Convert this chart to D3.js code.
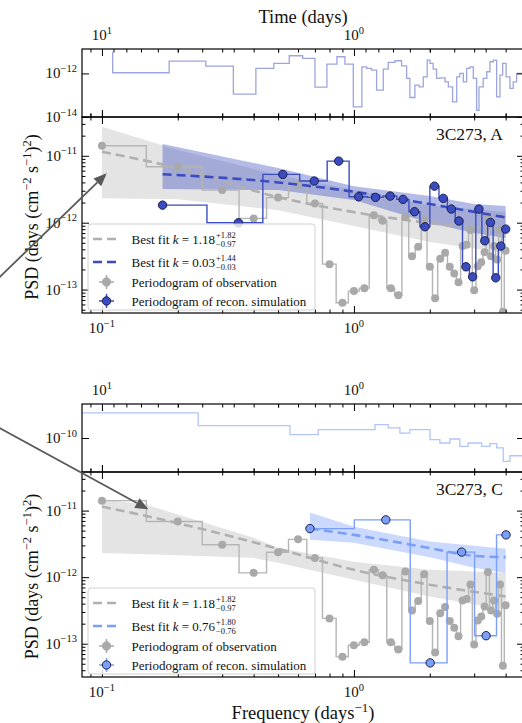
<!DOCTYPE html>
<html>
<head>
<meta charset="utf-8">
<script src="https://cdn.jsdelivr.net/npm/d3@7"></script>
<style>
  body { margin: 0; background: #fff; }
  text { font-family: "Liberation Serif", "DejaVu Serif", serif; fill: #111; }
</style>
</head>
<body>
<svg id="fig" width="522" height="723"></svg>
<script>
// ---------- values ----------
// periodogram of the observation (same in both panels)
const obsFreq = [0.1,0.2,0.3,0.4,0.5,0.6,0.7,0.8,0.9,1.0,1.1,1.2,1.3,1.4,1.5,1.6,1.7,1.8,1.9,2.0,
                 2.1,2.2,2.3,2.4,2.5,2.6,2.7,2.8,2.9,3.0,3.1,3.2,3.3,3.4,3.5,3.6,3.7,3.8,3.9,4.0];
const obsPSD = [1.41e-11,6.85e-12,3.07e-12,1.16e-12,2.37e-12,3.7e-12,1.94e-12,2.4e-13,6.35e-14,9.5e-14,
                1.05e-13,1.29e-12,1.07e-12,1.05e-13,8.2e-14,1.22e-12,3.16e-13,4.37e-13,1.11e-12,2.19e-13,
                7.4e-14,2.88e-13,3.55e-13,2.19e-13,1.74e-13,1.29e-13,4.47e-13,4.68e-13,7.76e-13,9.77e-14,
                2.24e-13,2.57e-13,3.63e-13,1.2e-12,3.16e-13,4.47e-13,2.82e-13,7.76e-13,4.68e-14,3.8e-13];

// panel A
const obsFitFreqA = [0.1, 0.2, 0.5, 1, 2, 4];
const obsFitA     = [1.15e-11, 6.55e-12, 2.41e-12, 1.44e-12, 9.86e-13, 7.76e-13];
const obsBandFreqA = [0.1, 0.2, 0.5, 1, 2, 4];
const obsBandLoA   = [2.31e-12, 2.25e-12, 1.54e-12, 8.9e-13, 5.13e-13, 3.51e-13];
const obsBandHiA   = [2.71e-11, 1.22e-11, 5.15e-12, 3.07e-12, 1.83e-12, 1.44e-12];
const simFreqA = [0.174,0.348,0.522,0.696,0.870,1.044,1.218,1.392,1.566,1.740,1.914,2.088,
                  2.262,2.436,2.610,2.784,2.958,3.132,3.306,3.480,3.654,3.828,4.002];
const simPSDA  = [1.83e-12,9.97e-13,5.27e-12,4.19e-12,8.33e-12,2.44e-12,2.39e-12,2.5e-12,2.23e-12,
                  1.46e-12,8.69e-13,3.52e-12,2.31e-12,1.6e-12,1.06e-12,2.19e-13,1.55e-13,1.6e-12,
                  5.36e-13,1.01e-12,1.5e-13,4.47e-13,8.02e-13];
const simFitFreqA = [0.174, 0.5, 1, 2, 3, 4];
const simFitA     = [5.3e-12, 4.0e-12, 2.9e-12, 1.9e-12, 1.45e-12, 1.2e-12];
const simBandFreqA = [0.174, 0.5, 1, 2, 3, 4];
const simBandLoA   = [3.18e-12, 3.07e-12, 2.18e-12, 9.86e-13, 7.0e-13, 5.9e-13];
const simBandHiA   = [1.5e-11, 6.55e-12, 3.52e-12, 2.5e-12, 1.9e-12, 1.77e-12];
// light curve A (time in days, step starts)
const lcTimeA = [9.07,9.07,5.41,3.87,3.01,2.45,2.08,1.806,1.598,1.428,1.28,1.168,1.086,1.006,0.93,0.89,
                 0.851,0.813,0.765,0.731,0.688,0.647,0.618,0.600,0.573,0.551,0.531,0.512,0.499,0.485,
                 0.470,0.456,0.435,0.422,0.406,0.391,0.380,0.368,0.357,0.3465,0.336,0.326,0.319,0.307,
                 0.297,0.2886,0.280,0.2715,0.2634,0.257,0.249,0.2404,0.2333,0.2262,0.21];
const lcFluxA = [9.9e-12,1.07e-12,3.69e-12,2.17e-12,1.11e-13,1.70e-12,2.89e-12,6.47e-12,4.91e-12,2.34e-13,
                 2.68e-12,5.82e-12,2.68e-12,2.89e-14,2.01e-12,1.70e-12,1.42e-12,1.70e-13,1.58e-12,3.21e-12,
                 3.81e-12,2.24e-12,5.89e-13,7.83e-14,2.89e-13,2.41e-13,6.97e-13,4.10e-12,2.89e-12,1.58e-12,
                 5.89e-13,6.27e-13,4.10e-13,2.41e-13,4.91e-14,6.97e-13,1.0e-12,4.10e-13,1.70e-12,2.01e-12,
                 5.89e-13,2.04e-14,2.41e-13,5.89e-13,1.19e-12,3.42e-12,4.10e-12,8.35e-14,8.35e-13,2.89e-12,
                 6.97e-13,2.04e-13,4.10e-13,1.0e-12,1.0e-12];

// panel C
const obsFitFreqC = [0.1, 0.2, 0.5, 1, 2, 4];
const obsFitC     = [1.15e-11, 6.47e-12, 2.67e-12, 1.29e-12, 7.7e-13, 5.14e-13];
const obsBandFreqC = [0.1, 0.15, 0.4, 0.5, 1, 2, 4];
const obsBandLoC   = [2.3e-12, 2.2e-12, 1.95e-12, 1.64e-12, 9.14e-13, 5.14e-13, 3.25e-13];
const obsBandHiC   = [1.48e-11, 1.22e-11, 3.9e-12, 2.76e-12, 1.7e-12, 1.29e-12, 1.16e-12];
const simFreqC = [0.669, 1.338, 2.007, 2.676, 3.345, 4.014];
const simPSDC  = [5.37e-12, 7.26e-12, 5.15e-14, 2.38e-12, 1.32e-13, 4.32e-12];
const simFitFreqC = [0.669, 1, 1.5, 2, 3, 4];
const simFitC     = [5.37e-12, 4.32e-12, 3.33e-12, 2.73e-12, 2.09e-12, 2.0e-12];
const simBandFreqC = [0.669, 1, 2, 3, 4];
const simBandLoC   = [3.64e-12, 3.28e-12, 2.0e-12, 1.38e-12, 1.15e-12];
const simBandHiC   = [9.33e-12, 5.7e-12, 3.43e-12, 2.96e-12, 2.67e-12];
const lcTimeC = [12.0,4.15,1.795,1.386,0.825,0.731,0.657,0.600,0.499,0.456,0.416,0.380,0.352,0.3113,
                 0.2886,0.2715,0.2556,0.2404,0.21];
const lcFluxC = [2.04e-10,1.42e-10,1.10e-10,1.27e-10,1.46e-10,1.33e-10,1.15e-10,1.27e-10,9.53e-11,8.67e-11,
                 9.72e-11,7.87e-11,8.67e-11,7.87e-11,8.51e-11,7.53e-11,5.14e-11,6.04e-11,6.04e-11];

const freqMajor = [0.1, 1];
const freqMinor = [0.09,0.2,0.3,0.4,0.5,0.6,0.7,0.8,0.9,2,3,4];
const timeMajor = [10, 1];
const timeMinor = [9,8,7,6,5,4,3,2,0.9,0.8,0.7,0.6,0.5,0.4,0.3];

// ---------- drawing ----------
const svg = d3.select("#fig");
const xL = 82, xR = 524;
const x  = d3.scaleLog().domain([1 / 12, 4.73]).range([xL, xR]);
const tx = d3.scaleLog().domain([12, 1 / 4.73]).range([xL, xR]);

const GRAY = "#a9a9a9";

function minorsOf(dom) {
  const out = [];
  for (let e = Math.floor(Math.log10(dom[0])); e <= Math.ceil(Math.log10(dom[1])); e++)
    for (let m = 2; m <= 9; m++) { const v = m * Math.pow(10, e); if (v > dom[0] && v < dom[1]) out.push(v); }
  return out;
}

function tickRow(g, axis, scale, vals, size, tr) {
  g.append("g").attr("transform", tr)
    .call(axis(scale).tickValues(vals).tickSize(-size).tickFormat(""))
    .call(s => { s.select(".domain").remove(); s.selectAll("line").attr("stroke", "#000").attr("stroke-width", 1); });
}

function powLabel(g, px, py, v, anchor, size) {
  const e = Math.round(Math.log10(v));
  const t = g.append("text").attr("x", px).attr("y", py).attr("text-anchor", anchor).attr("font-size", size);
  t.append("tspan").text("10");
  t.append("tspan").attr("dy", -size * 0.42).attr("font-size", size * 0.7).text(String(e).replace("-", "\u2212"));
}

const zip = (f, v) => f.map((d, i) => ({ f: d, v: v[i] }));
const bandOf = (f, lo, hi) => f.map((d, i) => ({ f: d, lo: lo[i], hi: hi[i] }));
function stepsMid(f, v) {
  const pts = [];
  f.forEach((fi, i) => {
    if (i > 0) { const m = (f[i - 1] + fi) / 2; pts.push({ f: m, v: v[i - 1] }, { f: m, v: v[i] }); }
    pts.push({ f: fi, v: v[i] });
  });
  return pts;
}

function drawPanel(c) {
  const g = svg.append("g");
  const yl = d3.scaleLog().domain(c.lcDomain).range([c.lcBot, c.lcTop]);
  const yp = d3.scaleLog().domain(c.psdDomain).range([c.psdBot, c.psdTop]);

  const defs = svg.append("defs");
  defs.append("clipPath").attr("id", "lc" + c.key).append("rect")
    .attr("x", xL).attr("y", c.lcTop).attr("width", xR - xL).attr("height", c.lcBot - c.lcTop);
  defs.append("clipPath").attr("id", "ps" + c.key).append("rect")
    .attr("x", xL).attr("y", c.psdTop).attr("width", xR - xL).attr("height", c.psdBot - c.psdTop);

  // light curve
  g.append("g").attr("clip-path", `url(#lc${c.key})`).append("path")
    .datum(c.lcTime.map((t, i) => ({ t, v: c.lcFlux[i] })))
    .attr("d", d3.line().x(d => tx(d.t)).y(d => yl(d.v)).curve(d3.curveStepAfter))
    .attr("fill", "none").attr("stroke", c.color).attr("stroke-opacity", c.lcOpacity).attr("stroke-width", 1.3);

  // PSD
  const p = g.append("g").attr("clip-path", `url(#ps${c.key})`);
  const area = d3.area().x(d => x(d.f)).y0(d => yp(d.lo)).y1(d => yp(d.hi));
  const line = d3.line().x(d => x(d.f)).y(d => yp(d.v));
  const fitLine = d3.line().x(d => x(d.f)).y(d => yp(d.v)).curve(d3.curveMonotoneX);

  p.append("path").attr("d", area(bandOf(c.obsBandFreq, c.obsBandLo, c.obsBandHi)))
    .attr("fill", "#c4c4c4").attr("fill-opacity", 0.45);
  p.append("path").attr("d", area(bandOf(c.simBandFreq, c.simBandLo, c.simBandHi)))
    .attr("fill", c.color).attr("fill-opacity", c.bandOpacity);

  p.append("path").attr("d", line(stepsMid(obsFreq, obsPSD)))
    .attr("fill", "none").attr("stroke", "#b5b5b5").attr("stroke-width", 1.4);
  p.append("path").attr("d", fitLine(zip(c.obsFitFreq, c.obsFit)))
    .attr("fill", "none").attr("stroke", "#b0b0b0").attr("stroke-width", 2.6).attr("stroke-dasharray", "9,5");
  p.selectAll(".obs").data(zip(obsFreq, obsPSD)).join("circle")
    .attr("cx", d => x(d.f)).attr("cy", d => yp(d.v)).attr("r", 4).attr("fill", GRAY);

  p.append("path").attr("d", line(stepsMid(c.simFreq, c.simPSD)))
    .attr("fill", "none").attr("stroke", c.color).attr("stroke-width", 1.4);
  p.append("path").attr("d", fitLine(zip(c.simFitFreq, c.simFit)))
    .attr("fill", "none").attr("stroke", c.color).attr("stroke-width", 2.6).attr("stroke-dasharray", "9,5");
  p.selectAll(".sim").data(zip(c.simFreq, c.simPSD)).join("circle")
    .attr("cx", d => x(d.f)).attr("cy", d => yp(d.v)).attr("r", 4.2)
    .attr("fill", c.color).attr("stroke", "#1b1f4d").attr("stroke-width", 1);

  // frames
  [[c.lcTop, c.lcBot], [c.psdTop, c.psdBot]].forEach(([t, b]) =>
    g.append("rect").attr("x", xL).attr("y", t).attr("width", xR - xL).attr("height", b - t)
      .attr("fill", "none").attr("stroke", "#000").attr("stroke-width", 1.2));

  // ticks: frequency rows on every horizontal spine, time ticks on the very top
  [c.lcBot, c.psdTop].forEach(yy => {
    tickRow(g, d3.axisBottom, x, freqMajor, 7, `translate(0,${yy})`);
    tickRow(g, d3.axisBottom, x, freqMinor, 3.5, `translate(0,${yy})`);
  });
  tickRow(g, d3.axisTop, x, freqMinor, 3.5, `translate(0,${c.lcTop})`);
  tickRow(g, d3.axisTop, tx, timeMajor, 7, `translate(0,${c.lcTop})`);
  tickRow(g, d3.axisTop, tx, timeMinor, 3.5, `translate(0,${c.lcTop})`);
  tickRow(g, d3.axisTop, x, freqMajor, 7, `translate(0,${c.psdTop})`);
  tickRow(g, d3.axisTop, x, freqMinor, 3.5, `translate(0,${c.psdTop})`);
  tickRow(g, d3.axisBottom, x, freqMajor, 7, `translate(0,${c.psdBot})`);
  tickRow(g, d3.axisBottom, x, freqMinor, 3.5, `translate(0,${c.psdBot})`);

  tickRow(g, d3.axisLeft, yl, c.lcTicks, 7, `translate(${xL},0)`);
  tickRow(g, d3.axisRight, yl, c.lcTicks, 7, `translate(${xR},0)`);
  tickRow(g, d3.axisLeft, yp, c.psdTicks, 7, `translate(${xL},0)`);
  tickRow(g, d3.axisRight, yp, c.psdTicks, 7, `translate(${xR},0)`);
  tickRow(g, d3.axisLeft, yp, minorsOf(c.psdDomain), 3.5, `translate(${xL},0)`);
  tickRow(g, d3.axisRight, yp, minorsOf(c.psdDomain), 3.5, `translate(${xR},0)`);

  // tick labels
  c.lcTicks.forEach(v => powLabel(g, 77, yl(v) + 5, v, "end", 15));
  c.psdTicks.forEach(v => powLabel(g, 77, yp(v) + 5, v, "end", 15));
  timeMajor.forEach(v => powLabel(g, tx(v), c.lcTop - 9, v, "middle", 15));
  freqMajor.forEach(v => powLabel(g, x(v), c.psdBot + 20, v, "middle", 15));

  // panel name
  g.append("text").attr("x", 503).attr("y", c.psdTop + 23).attr("text-anchor", "end")
    .attr("font-size", 17.5).text(c.name);

  // y label
  const cy = (c.psdTop + c.psdBot) / 2 + 2;
  const yt = g.append("text").attr("transform", `translate(38,${cy}) rotate(-90)`)
    .attr("text-anchor", "middle").attr("font-size", 18);
  yt.append("tspan").text("PSD (days (cm");
  yt.append("tspan").attr("dy", -7).attr("font-size", 12.5).text("\u22122");
  yt.append("tspan").attr("dy", 7).text(" s");
  yt.append("tspan").attr("dy", -7).attr("font-size", 12.5).text("\u22121");
  yt.append("tspan").attr("dy", 7).text(")");
  yt.append("tspan").attr("dy", -7).attr("font-size", 12.5).text("2");
  yt.append("tspan").attr("dy", 7).text(")");

  // legend
  const lg = g.append("g");
  const ly = c.psdBot - 89;
  lg.append("rect").attr("x", 88).attr("y", ly).attr("width", 227).attr("height", 86).attr("rx", 3)
    .attr("fill", "#fff").attr("fill-opacity", 0.8).attr("stroke", "#d0d0d0").attr("stroke-width", 1);
  const rows = [ly + 15, ly + 38, ly + 58, ly + 77];
  const fitEntry = (yy, col, val, up, dn) => {
    lg.append("line").attr("x1", 93).attr("x2", 119).attr("y1", yy).attr("y2", yy)
      .attr("stroke", col).attr("stroke-width", 2.6).attr("stroke-dasharray", "9,5");
    const t = lg.append("text").attr("x", 131.5).attr("y", yy + 4.5).attr("font-size", 13);
    t.append("tspan").text("Best fit ");
    t.append("tspan").attr("font-style", "italic").text("k");
    t.append("tspan").text(" = " + val);
    const w = t.node().getComputedTextLength();
    lg.append("text").attr("x", 131.5 + w + 1).attr("y", yy - 1).attr("font-size", 8.5).text(up);
    lg.append("text").attr("x", 131.5 + w + 1).attr("y", yy + 7.5).attr("font-size", 8.5).text(dn);
  };
  fitEntry(rows[0], "#b0b0b0", "1.18", "+1.82", "\u22120.97");
  fitEntry(rows[1], c.color, c.fitVal, c.fitUp, c.fitDn);
  const markEntry = (yy, fill, edge, label) => {
    lg.append("line").attr("x1", 99).attr("x2", 114).attr("y1", yy).attr("y2", yy).attr("stroke", fill).attr("stroke-width", 1.5);
    lg.append("line").attr("x1", 106.5).attr("x2", 106.5).attr("y1", yy - 7).attr("y2", yy + 7).attr("stroke", fill).attr("stroke-width", 1.5);
    lg.append("circle").attr("cx", 106.5).attr("cy", yy).attr("r", 4.2).attr("fill", fill).attr("stroke", edge);
    lg.append("text").attr("x", 131.5).attr("y", yy + 4.5).attr("font-size", 13).text(label);
  };
  markEntry(rows[2], GRAY, GRAY, "Periodogram of observation");
  markEntry(rows[3], c.color, "#1b1f4d", "Periodogram of recon. simulation");
}

drawPanel({
  key: "A", name: "3C273, A", color: "#3b4cc0", lcOpacity: 0.5, bandOpacity: 0.38,
  lcTop: 49, lcBot: 117, lcDomain: [1e-14, Math.pow(10, -10.88)], lcTicks: [1e-12, 1e-14],
  psdTop: 117, psdBot: 313, psdDomain: [Math.pow(10, -13.35), Math.pow(10, -10.42)], psdTicks: [1e-11, 1e-12, 1e-13],
  lcTime: lcTimeA, lcFlux: lcFluxA,
  obsFitFreq: obsFitFreqA, obsFit: obsFitA,
  obsBandFreq: obsBandFreqA, obsBandLo: obsBandLoA, obsBandHi: obsBandHiA,
  simFreq: simFreqA, simPSD: simPSDA, simFitFreq: simFitFreqA, simFit: simFitA,
  simBandFreq: simBandFreqA, simBandLo: simBandLoA, simBandHi: simBandHiA,
  fitVal: "0.03", fitUp: "+1.44", fitDn: "\u22120.03"
});
drawPanel({
  key: "C", name: "3C273, C", color: "#7b9ff9", lcOpacity: 0.6, bandOpacity: 0.4,
  lcTop: 404, lcBot: 472, lcDomain: [Math.pow(10, -10.42), Math.pow(10, -9.58)], lcTicks: [1e-10],
  psdTop: 472, psdBot: 677, psdDomain: [Math.pow(10, -13.5), Math.pow(10, -10.42)], psdTicks: [1e-11, 1e-12, 1e-13],
  lcTime: lcTimeC, lcFlux: lcFluxC,
  obsFitFreq: obsFitFreqC, obsFit: obsFitC,
  obsBandFreq: obsBandFreqC, obsBandLo: obsBandLoC, obsBandHi: obsBandHiC,
  simFreq: simFreqC, simPSD: simPSDC, simFitFreq: simFitFreqC, simFit: simFitC,
  simBandFreq: simBandFreqC, simBandLo: simBandLoC, simBandHi: simBandHiC,
  fitVal: "0.76", fitUp: "+1.80", fitDn: "\u22120.76"
});

// axis titles
svg.append("text").attr("x", 303).attr("y", 23).attr("text-anchor", "middle").attr("font-size", 18.5).text("Time (days)");
const ft = svg.append("text").attr("x", 303).attr("y", 719).attr("text-anchor", "middle").attr("font-size", 18.5);
ft.append("tspan").text("Frequency (days");
ft.append("tspan").attr("dy", -7).attr("font-size", 13).text("\u22121");
ft.append("tspan").attr("dy", 7).text(")");

// annotation arrows coming in from outside the crop
function arrow(x0, y0, x1, y1) {
  const a = Math.atan2(y1 - y0, x1 - x0), L = 13, hw = 5.5;
  const bx = x1 - L * Math.cos(a), by = y1 - L * Math.sin(a);
  svg.append("line").attr("x1", x0).attr("y1", y0).attr("x2", bx).attr("y2", by)
    .attr("stroke", "#595959").attr("stroke-width", 1.8);
  svg.append("path").attr("fill", "#595959")
    .attr("d", `M${x1},${y1}L${bx - hw * Math.sin(a)},${by + hw * Math.cos(a)}L${bx + hw * Math.sin(a)},${by - hw * Math.cos(a)}Z`);
}
arrow(-5, 281.6, 106.7, 173.3);
arrow(-5, 425.5, 148.3, 509.3);
</script>
</body>
</html>
